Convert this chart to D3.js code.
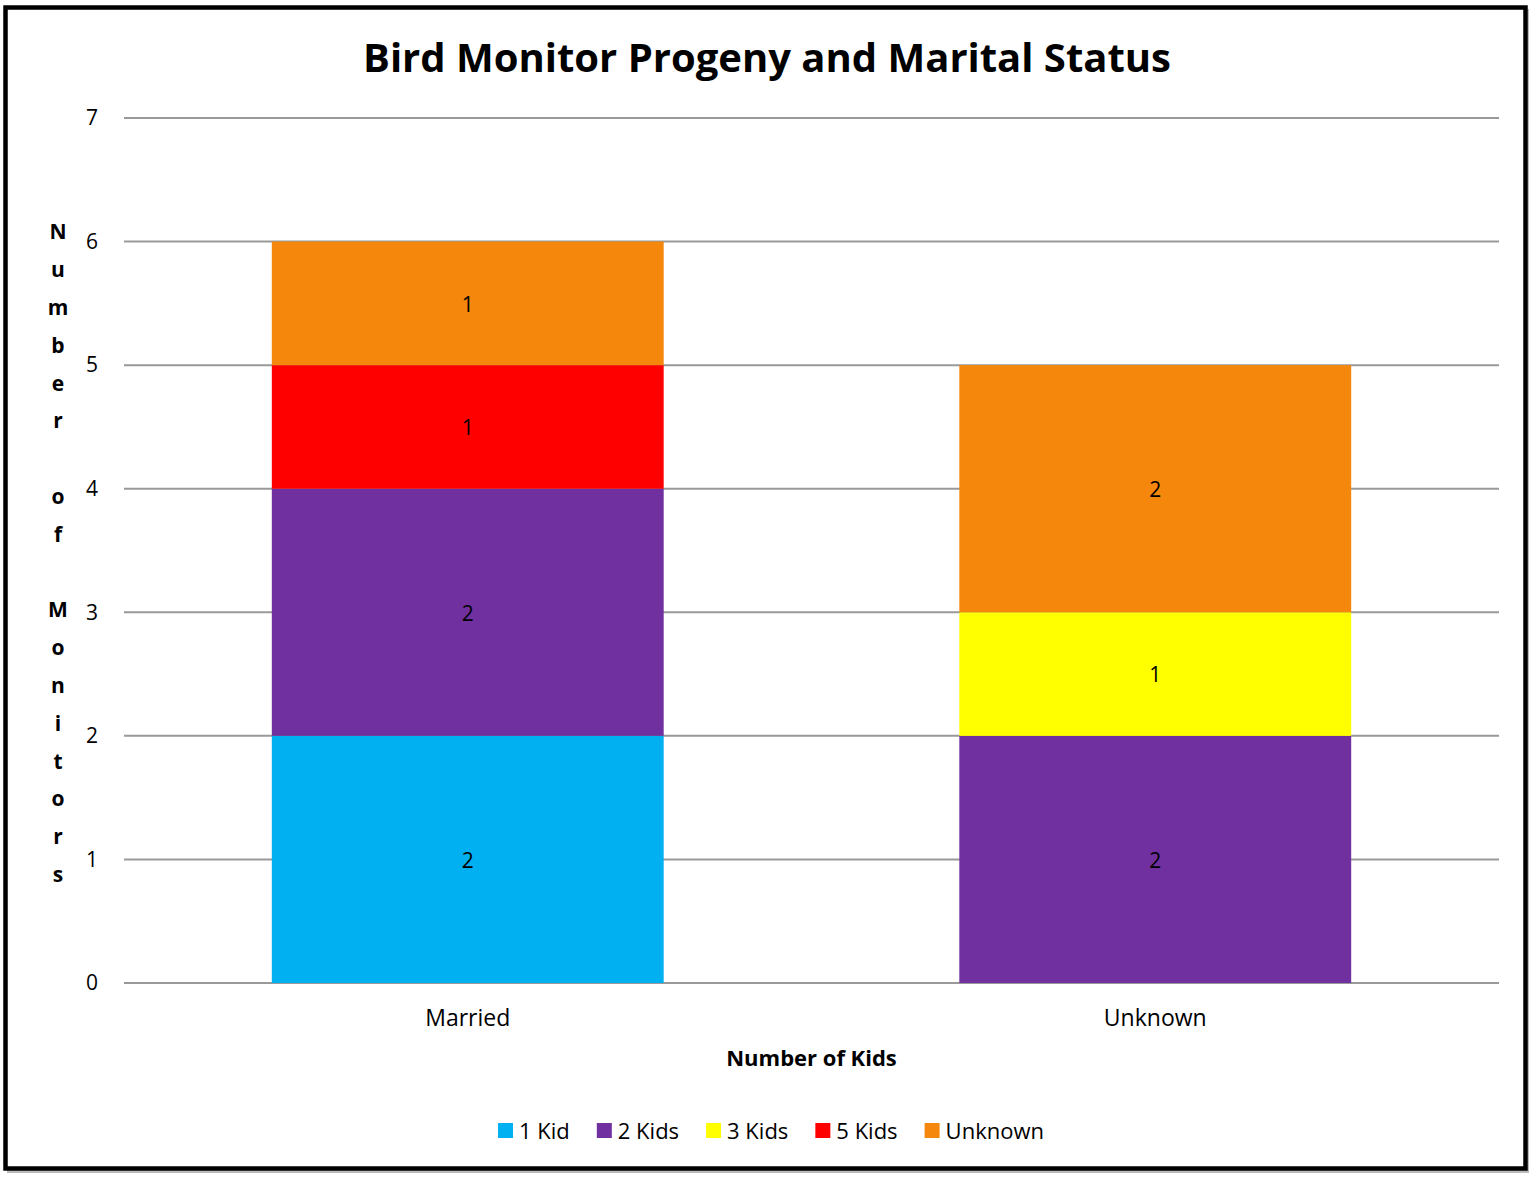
<!DOCTYPE html>
<html>
<head>
<meta charset="utf-8">
<script src="https://cdn.jsdelivr.net/npm/d3@7"></script>
<style>
  body { margin: 0; background: #fff; }
  text { font-family: "Open Sans", "Liberation Sans", sans-serif; fill: #000; }
</style>
</head>
<body>
<svg id="chart" width="1531" height="1177"></svg>
<script>
var categories = ["Married", "Unknown"];
var seriesNames = ["1 Kid", "2 Kids", "3 Kids", "5 Kids", "Unknown"];
var seriesColors = ["#00B0F0", "#7030A0", "#FFFF00", "#FF0000", "#F5870C"];
var kid1 = [2, 0];
var kids2 = [2, 2];
var kids3 = [0, 1];
var kids5 = [1, 0];
var unknownKids = [1, 2];
var yTicks = [0, 1, 2, 3, 4, 5, 6, 7];

var svg = d3.select("#chart");

// outer frame with soft shadow
svg.append("rect")
    .attr("x", 7).attr("y", 9).attr("width", 1522).attr("height", 1164)
    .attr("fill", "#bbb");
svg.append("rect")
    .attr("x", 5.5).attr("y", 7.5).attr("width", 1520).attr("height", 1161)
    .attr("fill", "#fff").attr("stroke", "#000").attr("stroke-width", 4.5);

var margin = {left: 124, right: 1499, top: 118, bottom: 983};

var x = d3.scaleBand()
    .domain(categories)
    .range([margin.left, margin.right])
    .paddingInner(0.43)
    .paddingOuter(0.215);

var y = d3.scaleLinear()
    .domain([0, 7])
    .range([margin.bottom, margin.top]);

// gridlines
svg.append("g").selectAll("line")
    .data(yTicks).enter()
    .append("line")
    .attr("x1", margin.left).attr("x2", margin.right)
    .attr("y1", function (d) { return y(d); })
    .attr("y2", function (d) { return y(d); })
    .attr("stroke", "#999").attr("stroke-width", 2);

// y tick labels
svg.append("g").selectAll("text")
    .data(yTicks).enter()
    .append("text")
    .attr("x", 92)
    .attr("y", function (d) { return y(d); })
    .attr("dy", "0.35em")
    .attr("text-anchor", "middle")
    .style("font-size", "21px")
    .text(function (d) { return d; });

// stacked data
var rows = categories.map(function (c, i) {
    return {cat: c, "1 Kid": kid1[i], "2 Kids": kids2[i], "3 Kids": kids3[i],
            "5 Kids": kids5[i], "Unknown": unknownKids[i]};
});
var stacked = d3.stack().keys(seriesNames)(rows);

var layers = svg.append("g").selectAll("g")
    .data(stacked).enter()
    .append("g")
    .attr("fill", function (d, i) { return seriesColors[i]; });

layers.selectAll("rect")
    .data(function (d) { return d.filter(function (p) { return p[1] - p[0] > 0; }); })
    .enter()
    .append("rect")
    .attr("x", function (d) { return x(d.data.cat); })
    .attr("width", x.bandwidth())
    .attr("y", function (d) { return y(d[1]); })
    .attr("height", function (d) { return y(d[0]) - y(d[1]); });

layers.selectAll("text")
    .data(function (d) { return d.filter(function (p) { return p[1] - p[0] > 0; }); })
    .enter()
    .append("text")
    .attr("x", function (d) { return x(d.data.cat) + x.bandwidth() / 2; })
    .attr("y", function (d) { return (y(d[0]) + y(d[1])) / 2 + 1; })
    .attr("dy", "0.35em")
    .attr("text-anchor", "middle")
    .style("font-size", "21px")
    .text(function (d) { return d[1] - d[0]; });

// category labels
svg.append("g").selectAll("text")
    .data(categories).enter()
    .append("text")
    .attr("x", function (d) { return x(d) + x.bandwidth() / 2; })
    .attr("y", 1018)
    .attr("dy", "0.35em")
    .attr("text-anchor", "middle")
    .style("font-size", "23px")
    .text(function (d) { return d; });

// title
svg.append("text")
    .attr("x", 767).attr("y", 58)
    .attr("dy", "0.35em")
    .attr("text-anchor", "middle")
    .style("font-size", "40px").style("font-weight", "bold")
    .text("Bird Monitor Progeny and Marital Status");

// x axis title
svg.append("text")
    .attr("x", (margin.left + margin.right) / 2).attr("y", 1058)
    .attr("dy", "0.35em")
    .attr("text-anchor", "middle")
    .style("font-size", "22px").style("font-weight", "bold")
    .text("Number of Kids");

// y axis title, stacked letters
var yTitle = "Number of Monitors".split("");
var step = 37.8;
var startY = 232;
svg.append("g").selectAll("text")
    .data(yTitle).enter()
    .append("text")
    .attr("x", 58)
    .attr("y", function (d, i) { return startY + i * step; })
    .attr("dy", "0.35em")
    .attr("text-anchor", "middle")
    .style("font-size", "21px").style("font-weight", "bold")
    .text(function (d) { return d; });

// legend
var legend = svg.append("g");
var items = legend.selectAll("g")
    .data(seriesNames).enter()
    .append("g");
items.append("rect")
    .attr("width", 15).attr("height", 15)
    .attr("y", 1123)
    .attr("fill", function (d, i) { return seriesColors[i]; });
items.append("text")
    .attr("x", 21)
    .attr("y", 1131)
    .attr("dy", "0.35em")
    .style("font-size", "22px")
    .text(function (d) { return d; });

var offsets = [];
var pos = 0;
items.each(function (d, i) {
    offsets.push(pos);
    pos += 21 + d3.select(this).select("text").node().getComputedTextLength() + 27;
});
var total = pos - 27;
var legendStart = 771 - total / 2;
items.attr("transform", function (d, i) {
    return "translate(" + (legendStart + offsets[i]) + ",0)";
});
</script>
</body>
</html>
